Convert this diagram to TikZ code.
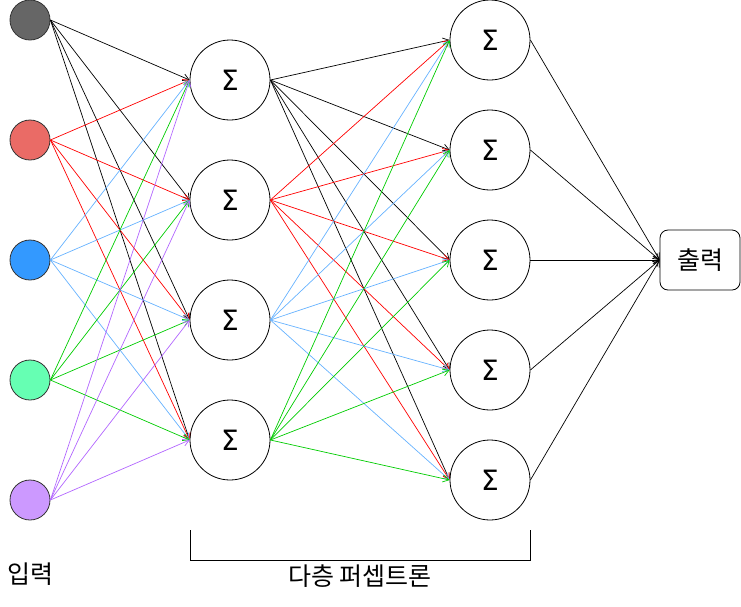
\documentclass[tikz,border=0pt]{standalone}
\usepackage{fontspec}
\setmainfont{Noto Sans CJK KR}
\newfontfamily\symfont{DejaVu Sans}
\usetikzlibrary{arrows.meta}
\definecolor{ingray}{HTML}{666666}
\definecolor{inred}{HTML}{EA6B66}
\definecolor{inblue}{HTML}{3399FF}
\definecolor{ingreen}{HTML}{66FFB3}
\definecolor{inpurple}{HTML}{CC99FF}
\definecolor{linered}{HTML}{FF0000}
\definecolor{lineblue}{HTML}{66B2FF}
\definecolor{linegreen}{HTML}{00CC00}
\definecolor{linepurple}{HTML}{B266FF}
\tikzset{
  inunit/.style={circle, draw=black!80, line width=0.8pt, minimum size=40pt, inner sep=0pt},
  sumunit/.style={circle, draw=black, line width=0.8pt, minimum size=80pt, inner sep=0pt,
    font=\symfont\fontsize{28}{28}\selectfont},
  link/.style={line width=0.7pt, -{Straight Barb[length=6pt,width=7pt]}},
  label/.style={font=\fontsize{25}{25}\selectfont, inner sep=0pt}
}
\begin{document}
\begin{tikzpicture}[x=1pt, y=-1pt]
  \useasboundingbox (0,0) rectangle (741,606);
  % 입력층
  \foreach \i/\y/\c in {1/20/ingray, 2/140/inred, 3/260/inblue, 4/380/ingreen, 5/500/inpurple}
    \node[inunit, fill=\c] (in\i) at (30,\y) {};
  % 은닉층 1
  \foreach \i/\y in {1/80, 2/200, 3/320, 4/440}
    \node[sumunit] (h\i) at (230,\y) {Σ};
  % 은닉층 2
  \foreach \i/\y in {1/40, 2/150, 3/260, 4/370, 5/480}
    \node[sumunit] (g\i) at (490,\y) {Σ};
  % 출력
  \node[draw, rounded corners=8pt, line width=0.8pt, minimum width=80pt, minimum height=60pt,
    label] (out) at (700,260) {출력};

  % 입력 -> 은닉층 1
  \foreach \i/\c in {1/black, 2/linered, 3/lineblue, 4/linegreen, 5/linepurple}
    \foreach \j in {1,...,4}
      \draw[link, \c] (in\i.east) -- (h\j.west);
  % 은닉층 1 -> 은닉층 2
  \foreach \i/\c in {1/black, 2/linered, 3/lineblue, 4/linegreen}
    \foreach \j in {1,...,5}
      \draw[link, \c] (h\i.east) -- (g\j.west);
  % 은닉층 2 -> 출력
  \foreach \j in {1,...,5}
    \draw[link] (g\j.east) -- (out.west);

  % 괄호와 이름
  \coordinate (bl) at (190,530);
  \coordinate (br) at (530,530);
  \draw[line width=0.8pt] (bl) -- ++(0,30) -| (br);
  \node[label] (mlp) at (360,576) {다층 퍼셉트론};
  \node[label] (inlbl) at (30,574) {입력};
\end{tikzpicture}
\end{document}
